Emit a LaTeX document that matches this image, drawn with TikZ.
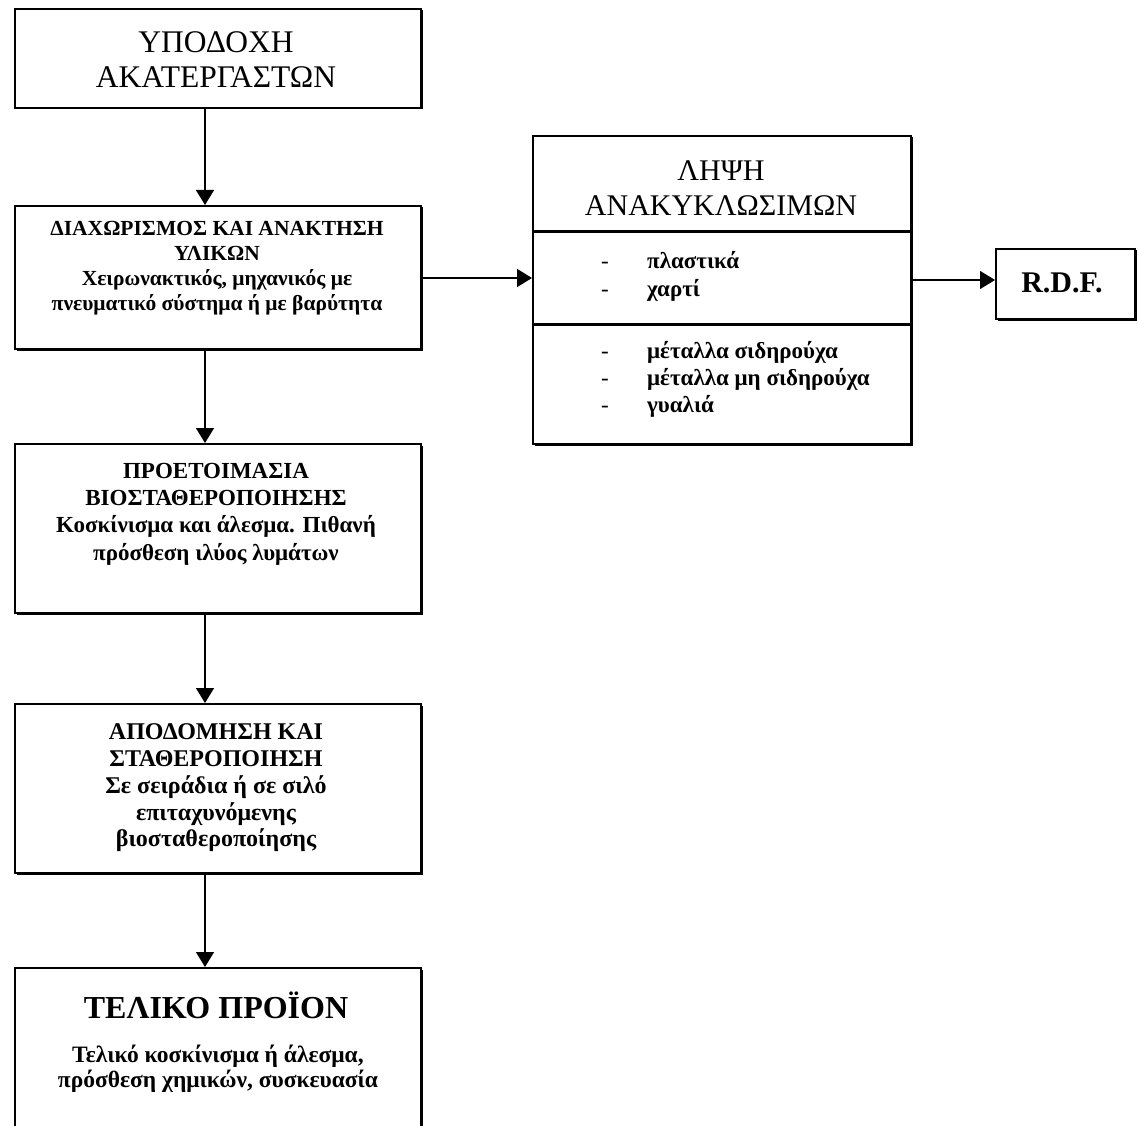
\documentclass[tikz,border=0pt]{standalone}
\usepackage{fontspec}
\setmainfont{Liberation Serif}
\usetikzlibrary{arrows.meta}
\tikzset{
  box/.style={draw, line width=2.4pt, fill=white, inner sep=0pt, anchor=north west},
  shadowbox/.style={fill=black, draw=none},
  arr/.style={line width=1.4pt, -{Triangle[length=15pt,width=18pt]}},
  btxt/.style={align=center, inner sep=0pt, font=\bfseries\fontsize{20}{26}\selectfont},
  rtxt/.style={align=center, inner sep=0pt, font=\fontsize{31.5}{35}\selectfont},
  itxt/.style={align=left, inner sep=0pt, anchor=west, font=\bfseries\fontsize{23}{28}\selectfont},
  divider/.style={line width=3pt},
}
\newcommand{\dashitem}[1]{\makebox[46pt][l]{\mdseries -}#1}
\begin{document}
\begin{tikzpicture}[x=1pt,y=-1pt]
\clip (0,0) rectangle (1138,1126);
\fill[white] (0,0) rectangle (1138,1126);
% shadows
\foreach \xa/\ya/\xb/\yb in {14/8/420/107, 14/205/420/348, 14/443/420/612, 14/703/420/872, 14/967/420/1150, 532/135/910/443, 995/248/1134/318}
  \fill[shadowbox] (\xa+2.5,\ya+2.5) rectangle (\xb+2.5,\yb+2.5);
% boxes
\node[box, minimum width=406pt, minimum height=99pt] (b1) at (14,8) {};
\node[box, minimum width=406pt, minimum height=143pt] (b2) at (14,205) {};
\node[box, minimum width=406pt, minimum height=169pt] (b3) at (14,443) {};
\node[box, minimum width=406pt, minimum height=169pt] (b4) at (14,703) {};
\node[box, minimum width=406pt, minimum height=183pt] (b5) at (14,967) {};
\node[box, minimum width=378pt, minimum height=308pt] (rb) at (532,135) {};
\node[box, minimum width=139pt, minimum height=70pt] (rdf) at (995,248) {};
% dividers
\draw[divider] (rb.west |- 0,232) -- (rb.east |- 0,232);
\draw[divider] (rb.west |- 0,324) -- (rb.east |- 0,324);
% texts
\node[rtxt] (t1) at (216,60) {ΥΠΟΔΟΧΗ\\ΑΚΑΤΕΡΓΑΣΤΩΝ};
\node[btxt, font=\bfseries\fontsize{21.5}{25}\selectfont] (t2) at (217,268) {ΔΙΑΧΩΡΙΣΜΟΣ ΚΑΙ ΑΝΑΚΤΗΣΗ\\ΥΛΙΚΩΝ\\Χειρωνακτικός, μηχανικός με\\πνευματικό σύστημα ή με βαρύτητα};
\node[btxt, font=\bfseries\fontsize{23}{27.3}\selectfont] (t3) at (216,514) {ΠΡΟΕΤΟΙΜΑΣΙΑ\\ΒΙΟΣΤΑΘΕΡΟΠΟΙΗΣΗΣ\\Κοσκίνισμα και άλεσμα. Πιθανή\\πρόσθεση ιλύος λυμάτων};
\node[btxt, font=\bfseries\fontsize{24}{26.8}\selectfont] (t4) at (216,788) {ΑΠΟΔΟΜΗΣΗ ΚΑΙ\\ΣΤΑΘΕΡΟΠΟΙΗΣΗ\\Σε σειράδια ή σε σιλό\\επιταχυνόμενης\\βιοσταθεροποίησης};
\node[btxt, font=\bfseries\fontsize{32}{36}\selectfont] (t5a) at (216,1005) {ΤΕΛΙΚΟ ΠΡΟΪΟΝ};
\node[btxt, font=\bfseries\fontsize{23.5}{25}\selectfont] (t5b) at (218,1069) {Τελικό κοσκίνισμα ή άλεσμα,\\πρόσθεση χημικών, συσκευασία};
\node[rtxt, font=\fontsize{30}{35}\selectfont] (th) at (721,188) {ΛΗΨΗ\\ΑΝΑΚΥΚΛΩΣΙΜΩΝ};
\node[itxt] (i1) at (601,276) {\dashitem{πλαστικά}\\\dashitem{χαρτί}};
\node[itxt, font=\bfseries\fontsize{23}{27}\selectfont] (i2) at (601,379) {\dashitem{μέταλλα σιδηρούχα}\\\dashitem{μέταλλα μη σιδηρούχα}\\\dashitem{γυαλιά}};
\node[btxt, font=\bfseries\fontsize{30}{32}\selectfont] (tr) at (1062,283) {R.D.F.};
% connectors
\coordinate (ax) at (205,0);
\draw[arr] (b1.south -| ax) -- (b2.north -| ax);
\draw[arr] (b2.south -| ax) -- (b3.north -| ax);
\draw[arr] (b3.south -| ax) -- (b4.north -| ax);
\draw[arr] (b4.south -| ax) -- (b5.north -| ax);
\coordinate (h1) at (0,278);
\coordinate (h2) at (0,280);
\draw[arr] (b2.east |- h1) -- (rb.west |- h1);
\draw[arr] (rb.east |- h2) -- (rdf.west |- h2);
\end{tikzpicture}
\end{document}
